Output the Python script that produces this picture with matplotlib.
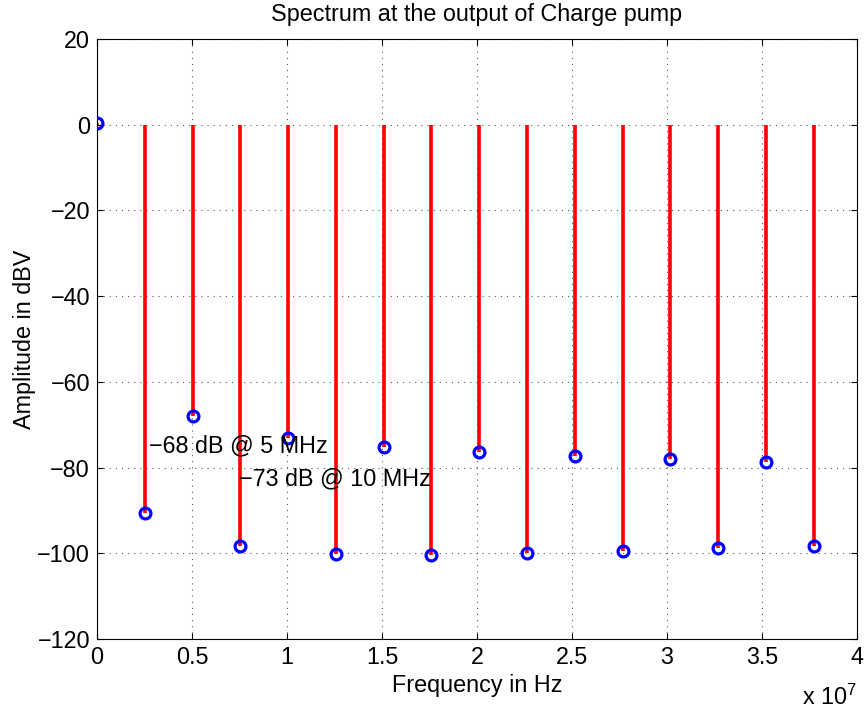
import numpy as np
import matplotlib
matplotlib.use("Agg")
import matplotlib.pyplot as plt
from matplotlib.ticker import FuncFormatter

plt.rcParams['font.family'] = ['Liberation Sans', 'DejaVu Sans']
plt.rcParams['mathtext.fontset'] = 'custom'
plt.rcParams['mathtext.rm'] = 'Liberation Sans'
plt.rcParams['mathtext.it'] = 'Liberation Sans'

# Harmonics of the charge-pump output (Hz) and their amplitudes (dBV)
f0 = 2.515e6
harmonic = np.arange(16)
amplitude_dbv = [0.3, -90.7, -68.0, -98.3, -73.0, -100.1, -75.1, -100.3,
                 -76.3, -99.9, -77.3, -99.4, -78.0, -98.7, -78.8, -98.3]
freq_hz = harmonic * f0

x_ticks = [0, 0.5e7, 1e7, 1.5e7, 2e7, 2.5e7, 3e7, 3.5e7, 4e7]
y_ticks = [20, 0, -20, -40, -60, -80, -100, -120]

annotations = [
    (2.74e6, -76.5, '\u221268 dB @ 5 MHz'),
    (7.49e6, -84.1, '\u221273 dB @ 10 MHz'),
]

FS = 16.8

fig = plt.figure(figsize=(8.66, 7.13), dpi=100)
ax = fig.add_axes([97 / 866, 1 - 639 / 713, 760 / 866, 600 / 713])

markerline, stemlines, baseline = ax.stem(freq_hz, amplitude_dbv,
                                          linefmt='r-', markerfmt='bo',
                                          basefmt=' ', bottom=0)
stemlines.set_linewidth(2.6)
stemlines.set_color('#ff0000')
markerline.set_markerfacecolor('none')
markerline.set_markeredgecolor('#0000ff')
markerline.set_markersize(7.8)
markerline.set_markeredgewidth(2.3)
markerline.set_zorder(3)

ax.set_xlim(0, 4e7)
ax.set_ylim(-120, 20)
ax.set_xticks(x_ticks)
ax.set_yticks(y_ticks)
ax.xaxis.set_major_formatter(FuncFormatter(lambda v, p: f'{v / 1e7:g}'))
ax.yaxis.set_major_formatter(FuncFormatter(lambda v, p: f'{v:g}'.replace('-', '\u2212')))

ax.tick_params(direction='in', top=True, right=True, length=4.3, width=0.8,
               labelsize=FS, pad=5, colors='black')
ax.grid(True, linestyle=(0, (1, 4.5)), color='0.35', linewidth=0.8)
for sp in ax.spines.values():
    sp.set_linewidth(0.8)
    sp.set_color('black')

ax.set_title('Spectrum at the output of Charge pump', fontsize=FS, pad=13)
ax.set_xlabel('Frequency in Hz', fontsize=FS)
ax.set_ylabel('Amplitude in dBV', fontsize=FS)
ax.xaxis.set_label_coords(0.5, -0.058)
ax.yaxis.set_label_coords(-0.080, 0.5)

ax.text(1.0, -0.11, r'x 10$^{7}$', transform=ax.transAxes,
        ha='right', va='baseline', fontsize=FS)

for x, y, s in annotations:
    ax.text(x, y, s, fontsize=FS, ha='left', va='baseline', zorder=4)

fig.savefig('out.png', dpi=100)
